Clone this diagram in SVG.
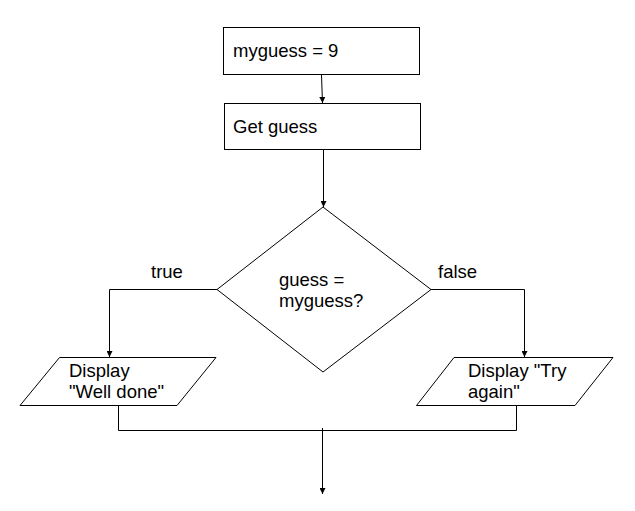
<svg xmlns="http://www.w3.org/2000/svg" width="635" height="511" viewBox="0 0 635 511">
<defs>
<marker id="arr" viewBox="0 0 10 10" refX="10" refY="5" markerWidth="6" markerHeight="6" markerUnits="userSpaceOnUse" orient="auto">
<path d="M0,0 L10,5 L0,10 z" fill="#000"/>
</marker>
<style>
.shape{fill:#fff;stroke:#000;stroke-width:1}
.lbl{font-family:"Liberation Sans",Arial,sans-serif;font-size:18.5px;fill:#000}
.conn{fill:none;stroke:#000;stroke-width:1}
</style>
</defs>
<rect width="635" height="511" fill="#fff"/>
<g id="connectors">
<path class="conn" d="M321.5,75 L322.5,103" marker-end="url(#arr)"/>
<path class="conn" d="M323.5,150 L323.5,207" marker-end="url(#arr)"/>
<path class="conn" d="M217,289.5 L109.5,289.5 L109.5,357" marker-end="url(#arr)"/>
<path class="conn" d="M431,289.5 L524.5,289.5 L524.5,357" marker-end="url(#arr)"/>
<path class="conn" d="M118.5,405 L118.5,430.5 L516.5,430.5 L516.5,405"/>
<path class="conn" d="M322.5,428 L322.5,494" marker-end="url(#arr)"/>
<text class="lbl" x="151" y="278">true</text>
<text class="lbl" x="438" y="278">false</text>
</g>
<g id="n1">
<rect class="shape" x="223.5" y="27.5" width="196" height="47"/>
<text class="lbl" x="233" y="57">myguess = 9</text>
</g>
<g id="n2">
<rect class="shape" x="224.5" y="103.5" width="196" height="46"/>
<text class="lbl" x="233" y="133">Get guess</text>
</g>
<g id="n3">
<polygon class="shape" points="323,207 431,289.5 323,372 217,289.5"/>
<text class="lbl" x="279" y="286">guess =</text>
<text class="lbl" x="279" y="307">myguess?</text>
</g>
<g id="n4">
<polygon class="shape" points="59.5,357.5 216,357.5 177,405.5 20,405.5"/>
<text class="lbl" x="69" y="377">Display</text>
<text class="lbl" x="69" y="398">"Well done"</text>
</g>
<g id="n5">
<polygon class="shape" points="454,357.5 613,357.5 575,405.5 416.5,405.5"/>
<text class="lbl" x="468" y="377">Display "Try</text>
<text class="lbl" x="468" y="398">again"</text>
</g>
</svg>
